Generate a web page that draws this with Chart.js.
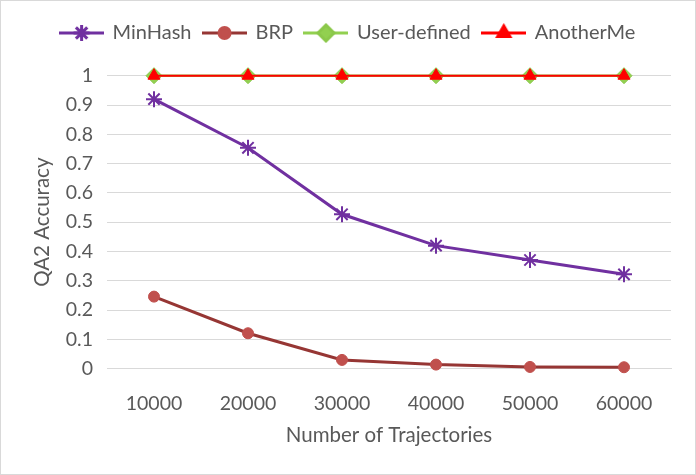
<!DOCTYPE html>
<html>
<head>
<meta charset="utf-8">
<script src="https://cdn.jsdelivr.net/npm/chart.js@4.4.1/dist/chart.umd.min.js"></script>
<style>
  html, body { margin: 0; padding: 0; background: #fff; }
  #wrap { width: 694px; height: 473px; border: 1px solid #d9d9d9; }
</style>
</head>
<body>
<div id="wrap"><canvas id="chart" width="694" height="473"></canvas></div>
<script>
const categories = ["10000", "20000", "30000", "40000", "50000", "60000"];
const minHash = [0.92, 0.754, 0.527, 0.42, 0.371, 0.322];
const brp = [0.246, 0.121, 0.03, 0.014, 0.006, 0.005];
const userDefined = [1, 1, 1, 1, 1, 1];
const anotherMe = [1, 1, 1, 1, 1, 1];
const yTicks = [0, 0.1, 0.2, 0.3, 0.4, 0.5, 0.6, 0.7, 0.8, 0.9, 1];

const textColor = "#595959";
const gridColor = "#d9d9d9";
const fontFamily = "Lato, 'Open Sans', sans-serif";

// legend icon: short line with the marker in the middle
function makeIcon(lineColor, lineWidth, style, fill, border, radius, borderWidth) {
  const c = document.createElement("canvas");
  c.width = 45;
  c.height = 20;
  const ctx = c.getContext("2d");
  ctx.strokeStyle = lineColor;
  ctx.lineWidth = lineWidth;
  ctx.beginPath();
  ctx.moveTo(0, 10);
  ctx.lineTo(45, 10);
  ctx.stroke();
  ctx.fillStyle = fill;
  ctx.strokeStyle = border;
  Chart.helpers.drawPoint(ctx, { pointStyle: style, radius: radius, rotation: 0, borderWidth: borderWidth }, 22.5, 10);
  return c;
}

const datasets = [
  {
    label: "MinHash",
    data: minHash,
    borderColor: "#7030A0",
    backgroundColor: "#7030A0",
    borderWidth: 3,
    pointStyle: "star",
    pointRadius: 8,
    pointBorderWidth: 2,
    pointBorderColor: "#7030A0",
    order: 0,
  },
  {
    label: "BRP",
    data: brp,
    borderColor: "#963634",
    backgroundColor: "#C0504D",
    borderWidth: 3,
    pointStyle: "circle",
    pointRadius: 5.5,
    pointBorderWidth: 1,
    pointBorderColor: "#C0504D",
    pointBackgroundColor: "#C0504D",
    order: 1,
  },
  {
    label: "User-defined",
    data: userDefined,
    borderColor: "#92D050",
    backgroundColor: "#92D050",
    borderWidth: 2.5,
    pointStyle: "rectRot",
    pointRadius: 8,
    pointBorderWidth: 1,
    pointBorderColor: "#8BC84A",
    pointBackgroundColor: "#92D050",
    order: 3,
  },
  {
    label: "AnotherMe",
    data: anotherMe,
    borderColor: "#FF0000",
    backgroundColor: "#FF0000",
    borderWidth: 2,
    pointStyle: "triangle",
    pointRadius: 7,
    pointBorderWidth: 1,
    pointBorderColor: "#FF0000",
    pointBackgroundColor: "#FF0000",
    order: 2,
  },
];

const icons = [
  makeIcon("#7030A0", 3, "star", "#7030A0", "#7030A0", 8, 2),
  makeIcon("#963634", 3, "circle", "#C0504D", "#C0504D", 5.5, 1),
  makeIcon("#92D050", 3, "rectRot", "#92D050", "#8BC84A", 8, 1),
  makeIcon("#FF0000", 3, "triangle", "#FF0000", "#FF0000", 7, 1),
];

// extra room between the legend and the plot area
const legendSpacer = {
  id: "legendSpacer",
  afterInit(chart) {
    const legend = chart.legend;
    const fit = legend.fit;
    legend.fit = function () {
      fit.call(legend);
      legend.height = 64.7;
    };
  },
};

new Chart(document.getElementById("chart").getContext("2d"), {
  type: "line",
  data: { labels: categories, datasets: datasets },
  plugins: [legendSpacer],
  options: {
    responsive: false,
    animation: false,
    clip: false,
    layout: { padding: { left: 24, right: 24, top: 10, bottom: 0 } },
    elements: { line: { tension: 0 } },
    plugins: {
      tooltip: { enabled: false },
      legend: {
        position: "top",
        align: "center",
        labels: {
          color: textColor,
          font: { family: fontFamily, size: 20 },
          usePointStyle: true,
          pointStyleWidth: 42,
          padding: 12,
          sort: (a, b) => a.datasetIndex - b.datasetIndex,
          generateLabels: (chart) =>
            chart.data.datasets.map((ds, i) => ({
              text: ds.label,
              datasetIndex: i,
              pointStyle: icons[i],
              fontColor: textColor,
              hidden: false,
              lineWidth: 0,
            })),
        },
      },
    },
    scales: {
      x: {
        offset: true,
        grid: { display: false, drawTicks: false },
        border: { display: true, color: gridColor, width: 1 },
        ticks: { color: textColor, font: { family: fontFamily, size: 19.5 }, padding: 23 },
        title: {
          display: true,
          text: "Number of Trajectories",
          color: textColor,
          font: { family: fontFamily, size: 20.5 },
          padding: { top: 0, bottom: 26 },
        },
        afterFit: (scale) => { scale.height = 105.3; },
      },
      y: {
        min: 0,
        max: 1,
        grid: { color: gridColor, lineWidth: 1, drawTicks: false },
        border: { display: false },
        afterBuildTicks: (scale) => { scale.ticks = yTicks.map((v) => ({ value: v })); },
        ticks: {
          color: textColor,
          font: { family: fontFamily, size: 19.5 },
          padding: 14,
          callback: (v) => String(Math.round(v * 10) / 10),
        },
        title: {
          display: true,
          text: "QA2 Accuracy",
          color: textColor,
          font: { family: fontFamily, size: 20.5 },
          padding: { top: 5, bottom: 0 },
        },
        afterFit: (scale) => { scale.width = 82; },
      },
    },
  },
});
</script>
</body>
</html>
